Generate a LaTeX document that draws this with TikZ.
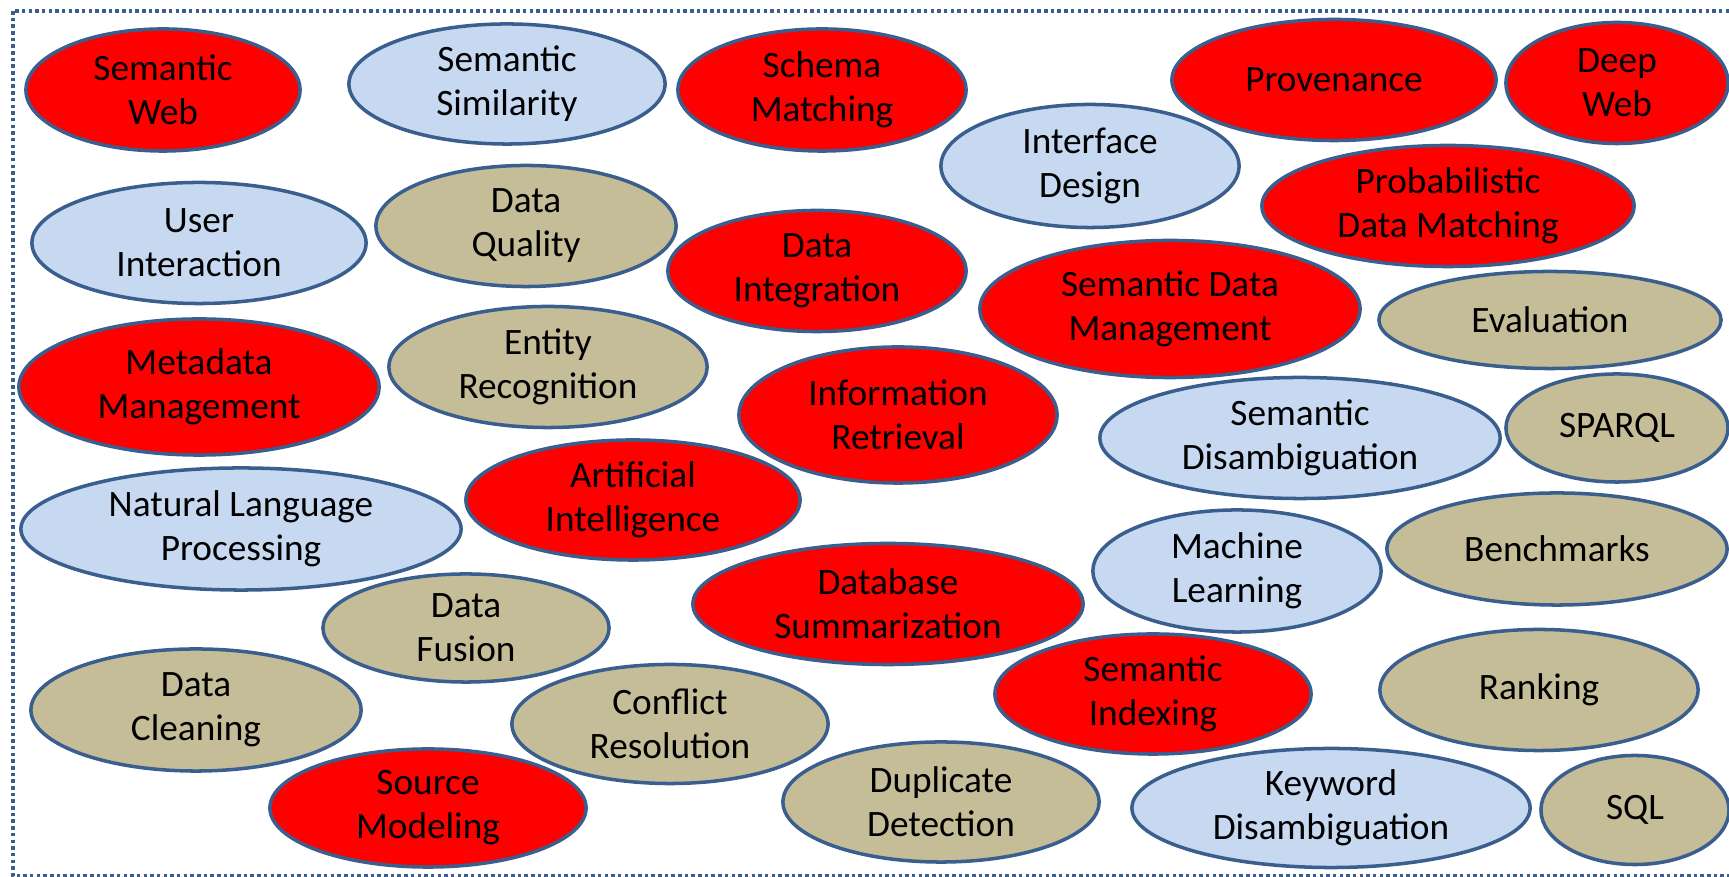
\documentclass[tikz,border=0pt]{standalone}
\usepackage{fontspec}
\setmainfont{Carlito}
\usepackage{tikz}
\usetikzlibrary{shapes.geometric}
\definecolor{topicred}{HTML}{FF0000}
\definecolor{topicblue}{HTML}{C6D9F1}
\definecolor{topictan}{HTML}{C4BD97}
\definecolor{rimblue}{HTML}{3A5F8E}

\begin{document}
\begin{tikzpicture}[x=0.01cm,y=-0.01cm,
  topic/.style={ellipse,draw=rimblue,line width=1pt,inner sep=-8pt,align=center,
    font=\fontsize{10.6}{12.5}\selectfont},
  hot/.style={topic,fill=topicred},
  soft/.style={topic,fill=topicblue},
  base/.style={topic,fill=topictan},
  dims/.style 2 args={minimum width=#1,minimum height=#2}]%research topics
\useasboundingbox (0,0) rectangle (1729,877);
\draw [rimblue,line width=1pt,dash pattern=on 1pt off 0.9pt] (13,11) rectangle (1760,876);
% first rows
\node[hot,dims={2.74cm}{1.22cm}] (semweb) at (163,90) {Semantic\\Web};
\node[soft,dims={3.16cm}{1.20cm}] (semsim) at (507,84) {Semantic\\Similarity};
\node[hot,dims={2.88cm}{1.22cm}] (schema) at (822,90) {Schema\\Matching};
\node[hot,dims={3.24cm}{1.21cm}] (provenance) at (1334,80) {Provenance};
\node[hot,dims={2.22cm}{1.21cm}] (deepweb) at (1617,83) {Deep\\Web};
\node[soft,dims={2.98cm}{1.23cm}] (interface) at (1090,166) {Interface\\Design};
\node[hot,dims={3.72cm}{1.21cm}] (probmatch) at (1448,206) {Probabilistic\\Data Matching};
\node[soft,dims={3.34cm}{1.21cm}] (userint) at (199,243) {User\\Interaction};
\node[base,dims={3.00cm}{1.21cm}] (quality) at (526,226) {Data\\Quality};
\node[hot,dims={2.98cm}{1.21cm}] (integration) at (817,271) {Data\\Integration};
\node[hot,dims={3.80cm}{1.37cm}] (semdm) at (1170,309) {Semantic Data\\Management};
\node[base,dims={3.42cm}{0.97cm}] (evaluation) at (1550,320) {Evaluation};
% middle rows
\node[hot,dims={3.60cm}{1.36cm}] (metadata) at (199,387) {Metadata\\Management};
\node[base,dims={3.18cm}{1.21cm}] (entity) at (548,367) {Entity\\Recognition};
\node[hot,dims={3.18cm}{1.36cm}] (inforet) at (898,415) {Information\\Retrieval};
\node[soft,dims={4.00cm}{1.21cm}] (semdis) at (1300,438) {Semantic\\Disambiguation};
\node[base,dims={2.22cm}{1.08cm}] (sparql) at (1617,428) {SPARQL};
\node[hot,dims={3.34cm}{1.20cm}] (ai) at (633,500) {Artificial\\Intelligence};
\node[soft,dims={4.40cm}{1.22cm}] (nlp) at (241,529) {Natural Language\\Processing};
\node[soft,dims={2.88cm}{1.22cm}] (ml) at (1237,571) {Machine\\Learning};
\node[base,dims={3.40cm}{1.12cm}] (benchmarks) at (1557,549) {Benchmarks};
\node[base,dims={2.86cm}{1.08cm}] (fusion) at (466,628) {Data\\Fusion};
\node[hot,dims={3.90cm}{1.21cm}] (dbsum) at (888,604) {Database\\Summarization};
% bottom rows
\node[hot,dims={3.16cm}{1.20cm}] (semidx) at (1153,694) {Semantic\\Indexing};
\node[base,dims={3.18cm}{1.21cm}] (ranking) at (1539,690) {Ranking};
\node[base,dims={3.30cm}{1.22cm}] (cleaning) at (196,710) {Data\\Cleaning};
\node[base,dims={3.16cm}{1.19cm}] (conflict) at (670,724) {Conflict\\Resolution};
\node[hot,dims={3.16cm}{1.18cm}] (source) at (428,808) {Source\\Modeling};
\node[base,dims={3.16cm}{1.20cm}] (duplicate) at (941,802) {Duplicate\\Detection};
\node[soft,dims={3.98cm}{1.19cm}] (keyword) at (1331,808) {Keyword\\Disambiguation};
\node[base,dims={1.88cm}{1.09cm}] (sql) at (1635,810) {SQL};
\end{tikzpicture}
\end{document}
